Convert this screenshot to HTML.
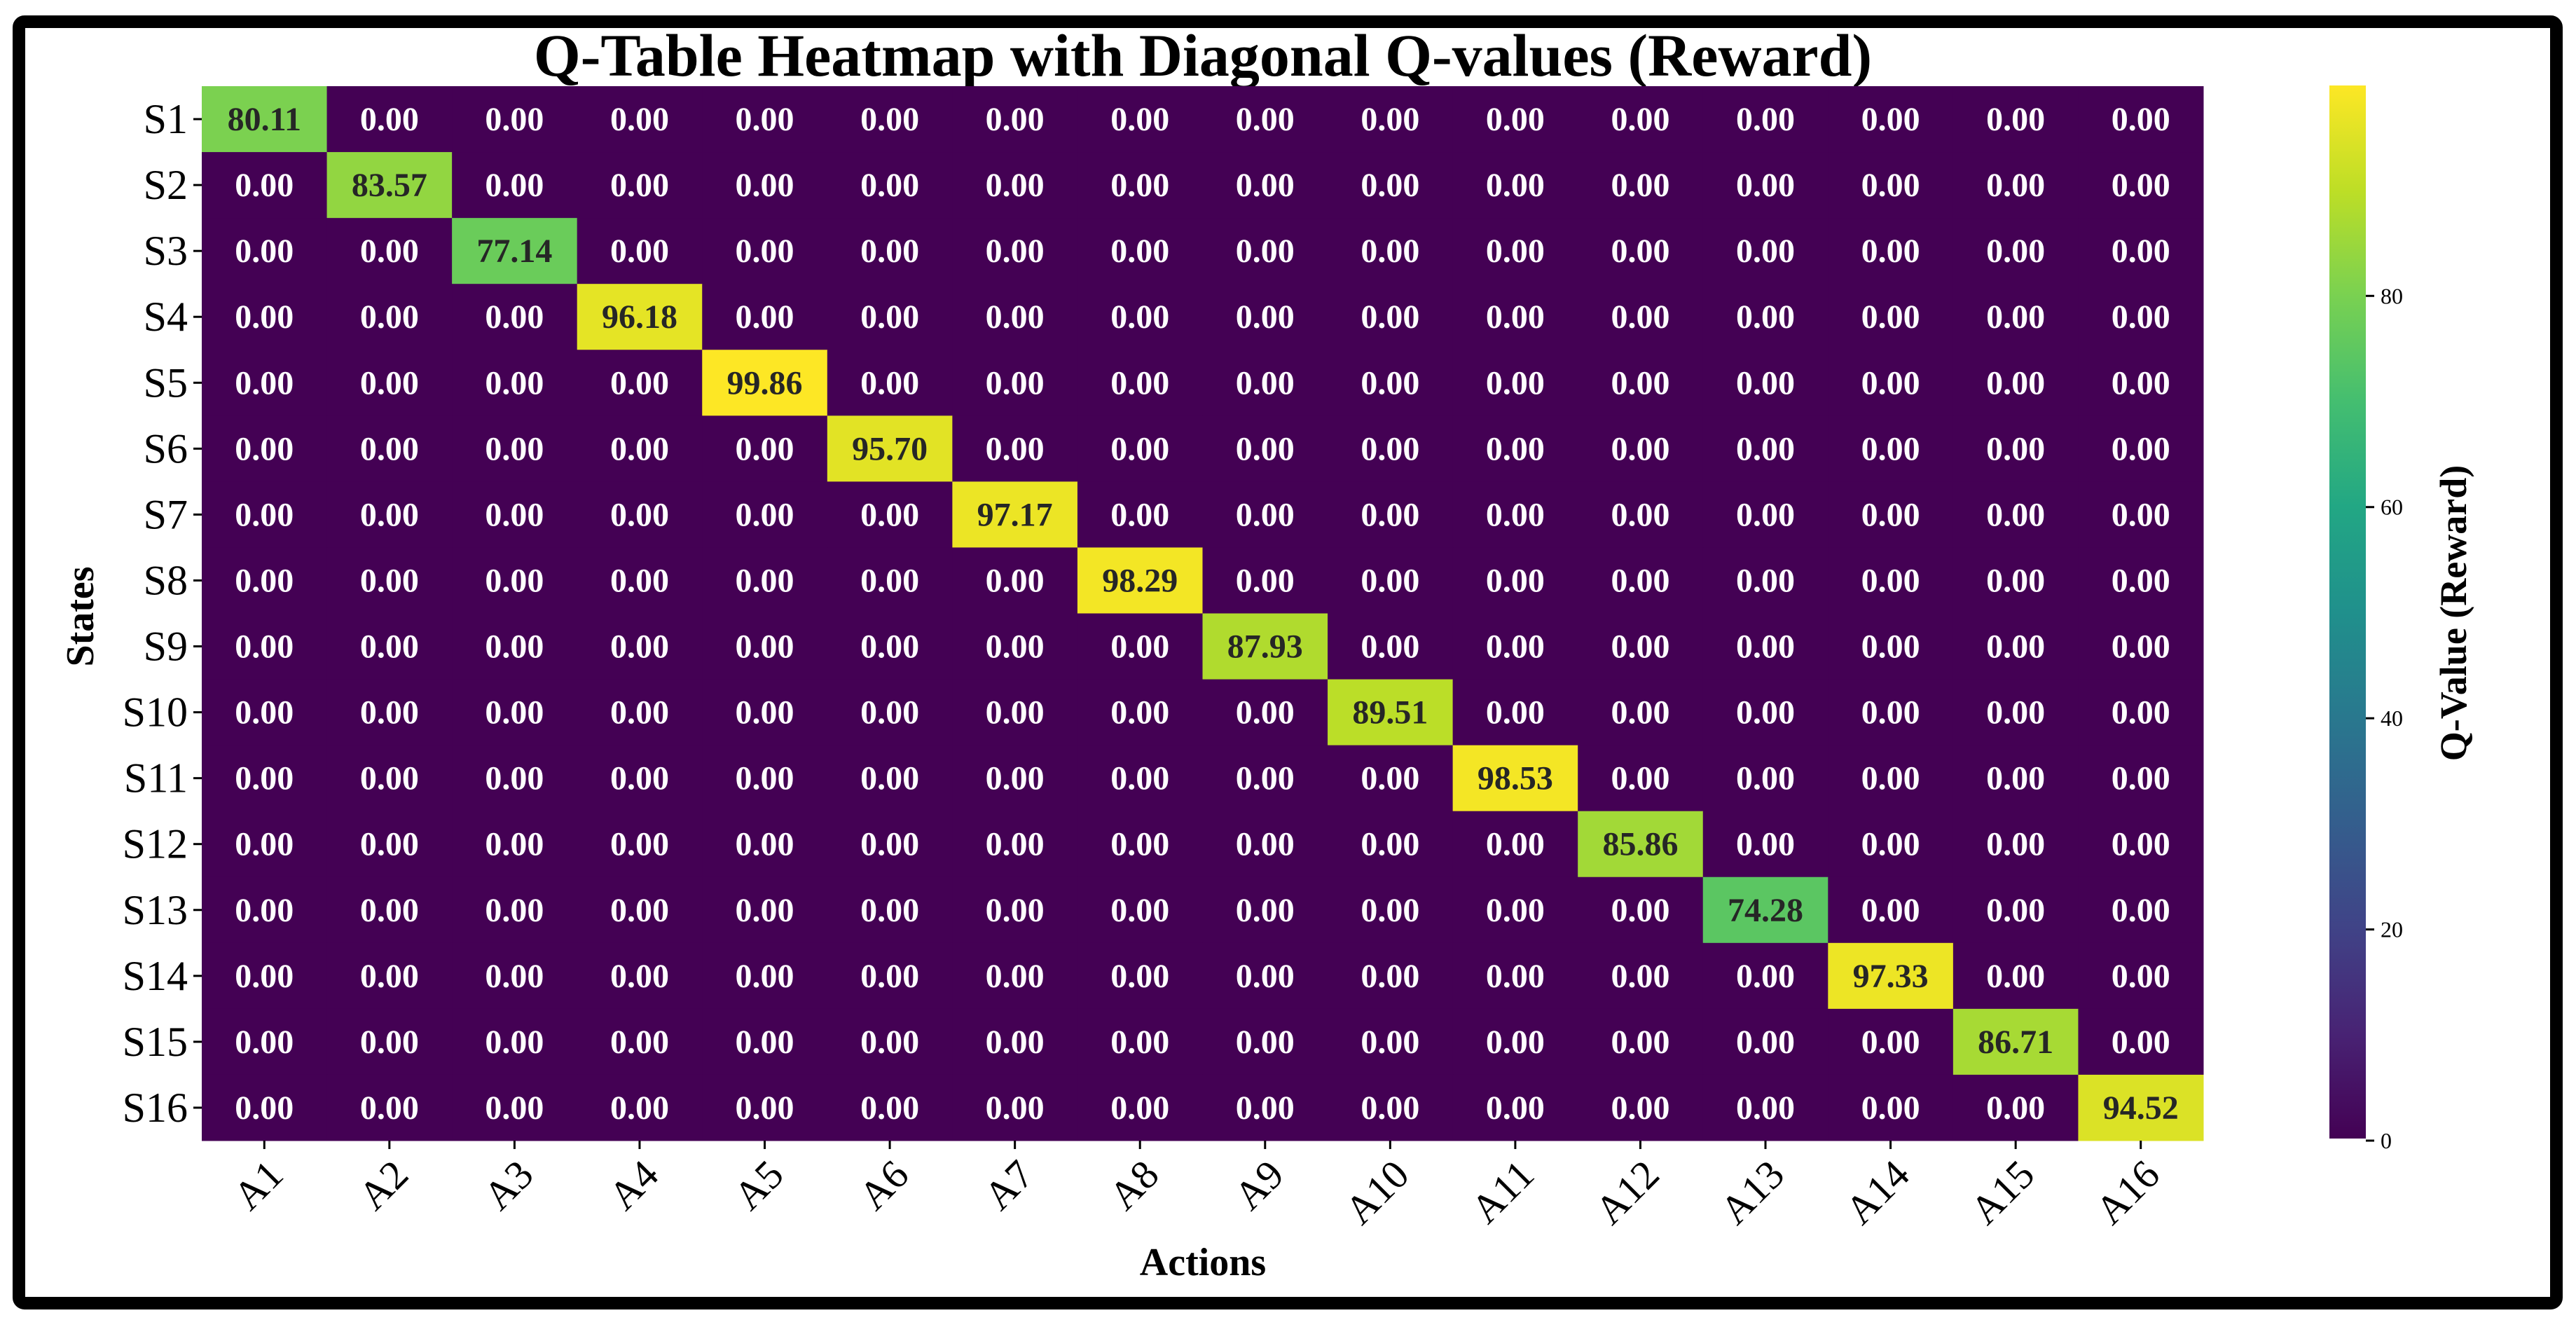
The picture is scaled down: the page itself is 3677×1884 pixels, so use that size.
<!DOCTYPE html>
<html><head><meta charset="utf-8"><style>
html,body{margin:0;padding:0;background:#fff;}
svg{display:block;}
text{font-family:"Liberation Serif",serif;}
</style></head><body>
<svg id="chart" width="3677" height="1884" viewBox="0 0 3677 1884" xmlns="http://www.w3.org/2000/svg">
<rect x="0" y="0" width="3677" height="1884" fill="#fff"/>
<rect x="27" y="31" width="3622" height="1829" rx="8" fill="none" stroke="#000" stroke-width="18"/>
<text x="1717" y="108" font-size="86" font-weight="bold" text-anchor="middle">Q-Table Heatmap with Diagonal Q-values (Reward)</text>
<g id="cells"></g>
<g id="yticks"></g>
<g id="xticks"></g>
<text x="1717" y="1820" font-size="56" font-weight="bold" text-anchor="middle">Actions</text>
<text transform="translate(133,880) rotate(-90)" font-size="56" font-weight="bold" text-anchor="middle">States</text>
<defs><linearGradient id="vir" x1="0" y1="1" x2="0" y2="0"></linearGradient></defs>
<rect id="cbar" x="3325" y="122" width="52" height="1503" fill="url(#vir)"/>
<g id="cticks"></g>
<text transform="translate(3520,875) rotate(-90)" font-size="54" font-weight="bold" text-anchor="middle">Q-Value (Reward)</text>
</svg>
<script>
const states = ["S1","S2","S3","S4","S5","S6","S7","S8","S9","S10","S11","S12","S13","S14","S15","S16"];
const actions = ["A1","A2","A3","A4","A5","A6","A7","A8","A9","A10","A11","A12","A13","A14","A15","A16"];
const diagonalValues = [80.11,83.57,77.14,96.18,99.86,95.70,97.17,98.29,87.93,89.51,98.53,85.86,74.28,97.33,86.71,94.52];
const colorbarTicks = [0,20,40,60,80];

const NS="http://www.w3.org/2000/svg";
const L=288,R=3145,T=123,B=1628;
const cw=(R-L)/actions.length, ch=(B-T)/states.length;
const vmin=0, vmax=Math.max(...diagonalValues);
const viridis=[[68,1,84],[72,35,116],[64,67,135],[52,94,141],[41,120,142],[32,144,140],[34,167,132],[68,190,112],[121,209,81],[189,222,38],[253,231,37]];
function cmap(v){let t=(v-vmin)/(vmax-vmin);t=Math.max(0,Math.min(1,t));const p=t*(viridis.length-1);const i=Math.min(viridis.length-2,Math.floor(p));const f=p-i;const a=viridis[i],b=viridis[i+1];return "rgb("+a.map((c,k)=>Math.round(c+(b[k]-c)*f)).join(",")+")";}
function xs(j){return L+j*cw;}
function ys(i){return T+i*ch;}
function cy(v){return B-(v-vmin)/(vmax-vmin)*(B-T);}
function mk(tag,attrs,parent){const e=document.createElementNS(NS,tag);for(const k in attrs)e.setAttribute(k,attrs[k]);parent.appendChild(e);return e;}

const cells=document.getElementById('cells');
for(let i=0;i<states.length;i++){for(let j=0;j<actions.length;j++){
  const v=(i===j)?diagonalValues[i]:0;
  const r=mk('rect',{x:xs(j),y:ys(i),width:cw+0.5,height:ch+0.5,fill:cmap(v)},cells);
  
  
  const t=mk('text',{x:xs(j)+cw/2,y:ys(i)+ch/2+16,'font-size':48,'font-weight':'bold','text-anchor':'middle',fill:(v/vmax>0.5)?'#262626':'#ffffff'},cells);
  t.textContent=v.toFixed(2);
  
  
}}
const yt=document.getElementById('yticks');
states.forEach((s,i)=>{
  const y=ys(i)+ch/2;
  const l=mk('line',{x1:L-12,x2:L,y1:y,y2:y,stroke:'#000','stroke-width':3},yt);
  
  
  const t=mk('text',{x:L-20,y:y+20,'font-size':60,'text-anchor':'end'},yt);
  t.textContent=s;
  
  
});
const xt=document.getElementById('xticks');
actions.forEach((a,j)=>{
  const x=xs(j)+cw/2;
  const l=mk('line',{x1:x,x2:x,y1:B,y2:B+12,stroke:'#000','stroke-width':3},xt);
  
  
  const t=mk('text',{transform:'translate('+(x+30)+','+(B+52)+') rotate(-45)','font-size':58,'text-anchor':'end'},xt);
  t.textContent=a;
  
  
});
const g=document.querySelector('#vir');
viridis.forEach((c,k)=>{mk('stop',{offset:(k/(viridis.length-1)),'stop-color':'rgb('+c.join(',')+')'},g);});
const ct=document.getElementById('cticks');
colorbarTicks.forEach(v=>{
  const y=cy(v);
  const l=mk('line',{x1:3377,x2:3389,y1:y,y2:y,stroke:'#000','stroke-width':3},ct);
  
  
  const t=mk('text',{x:3398,y:y+11,'font-size':32},ct);
  t.textContent=String(v);
  
  
});
</script>
</body></html>
